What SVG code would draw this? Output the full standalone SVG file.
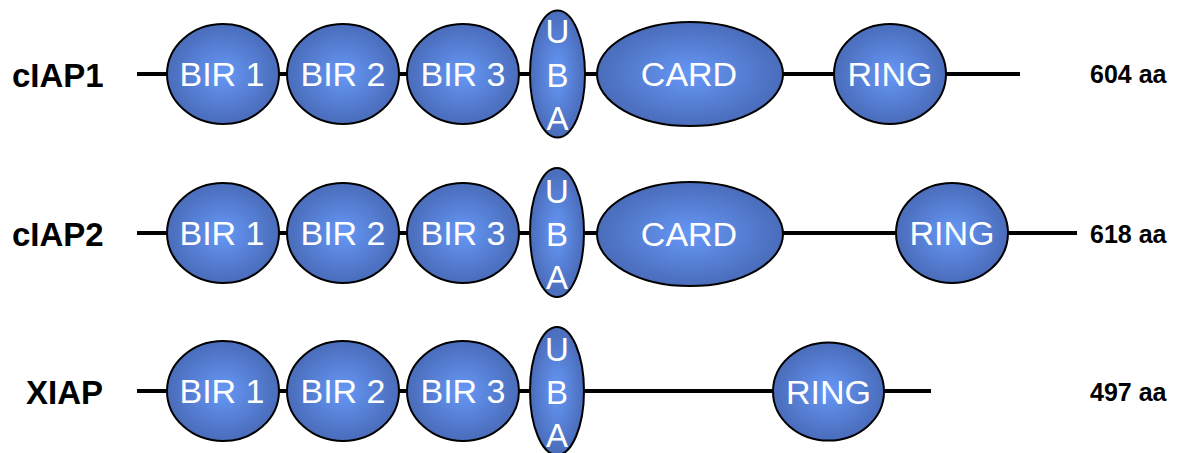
<svg xmlns="http://www.w3.org/2000/svg" width="1184" height="453" viewBox="0 0 1184 453">
<defs>
<radialGradient id="g" cx="50%" cy="50%" r="50%">
<stop offset="0" stop-color="#6698f6"/>
<stop offset="1" stop-color="#4a6cba"/>
</radialGradient>
</defs>
<style>
.dom{fill:url(#g);stroke:#000;stroke-width:2}
.dt{font-family:"Liberation Sans",Arial,sans-serif;font-size:34px;fill:#fff;text-anchor:middle}
.ut{font-family:"Liberation Sans",Arial,sans-serif;font-size:33px;fill:#fff;text-anchor:middle}
.name{font-family:"Liberation Sans",Arial,sans-serif;font-size:33px;font-weight:bold;fill:#000}
.len{font-family:"Liberation Sans",Arial,sans-serif;font-size:25px;font-weight:bold;fill:#000}
.bb{stroke:#000;stroke-width:4;fill:none}
</style>
<rect width="1184" height="453" fill="#fff"/>
<g id="connectors">
<line class="bb" x1="137" y1="74" x2="1020" y2="74"/>
<line class="bb" x1="137" y1="233" x2="1077" y2="233"/>
<line class="bb" x1="137" y1="391" x2="931" y2="391"/>
</g>
<g id="ciap1">
<text class="name" x="12" y="87">cIAP1</text>
<text class="len" x="1090" y="83">604 aa</text>
<g id="ciap1-bir1"><ellipse class="dom" cx="223" cy="74" rx="56" ry="50"/><text class="dt" x="222" y="86">BIR 1</text></g>
<g id="ciap1-bir2"><ellipse class="dom" cx="343" cy="74" rx="56" ry="50"/><text class="dt" x="343" y="86">BIR 2</text></g>
<g id="ciap1-bir3"><ellipse class="dom" cx="463" cy="74" rx="56" ry="50"/><text class="dt" x="463" y="86">BIR 3</text></g>
<g id="ciap1-uba"><ellipse class="dom" cx="557.5" cy="74" rx="27.5" ry="63.5"/><text class="ut" x="557.5" y="43">U</text><text class="ut" x="557.5" y="87">B</text><text class="ut" x="557.5" y="130">A</text></g>
<g id="ciap1-card"><ellipse class="dom" cx="690" cy="74" rx="93" ry="52"/><text class="dt" x="689" y="86">CARD</text></g>
<g id="ciap1-ring"><ellipse class="dom" cx="890" cy="74" rx="56" ry="50"/><text class="dt" x="890" y="86">RING</text></g>
</g>
<g id="ciap2">
<text class="name" x="12" y="246">cIAP2</text>
<text class="len" x="1090" y="243">618 aa</text>
<g id="ciap2-bir1"><ellipse class="dom" cx="223" cy="233" rx="56" ry="50"/><text class="dt" x="222" y="245">BIR 1</text></g>
<g id="ciap2-bir2"><ellipse class="dom" cx="343" cy="233" rx="56" ry="50"/><text class="dt" x="343" y="245">BIR 2</text></g>
<g id="ciap2-bir3"><ellipse class="dom" cx="463" cy="233" rx="56" ry="50"/><text class="dt" x="463" y="245">BIR 3</text></g>
<g id="ciap2-uba"><ellipse class="dom" cx="557" cy="232.5" rx="27" ry="64.5"/><text class="ut" x="557" y="203">U</text><text class="ut" x="557" y="246">B</text><text class="ut" x="557" y="289">A</text></g>
<g id="ciap2-card"><ellipse class="dom" cx="690" cy="234" rx="93" ry="52"/><text class="dt" x="689" y="246">CARD</text></g>
<g id="ciap2-ring"><ellipse class="dom" cx="952" cy="233" rx="56" ry="50"/><text class="dt" x="952" y="245">RING</text></g>
</g>
<g id="xiap">
<text class="name" x="26" y="404">XIAP</text>
<text class="len" x="1090" y="401">497 aa</text>
<g id="xiap-bir1"><ellipse class="dom" cx="223" cy="391" rx="56" ry="50"/><text class="dt" x="222" y="403">BIR 1</text></g>
<g id="xiap-bir2"><ellipse class="dom" cx="343" cy="391" rx="56" ry="50"/><text class="dt" x="343" y="403">BIR 2</text></g>
<g id="xiap-bir3"><ellipse class="dom" cx="463" cy="391" rx="56" ry="50"/><text class="dt" x="463" y="403">BIR 3</text></g>
<g id="xiap-uba"><ellipse class="dom" cx="557" cy="391" rx="27" ry="64"/><text class="ut" x="557" y="361">U</text><text class="ut" x="557" y="404">B</text><text class="ut" x="557" y="447">A</text></g>
<g id="xiap-ring"><ellipse class="dom" cx="828.5" cy="391.5" rx="55.5" ry="49"/><text class="dt" x="828.5" y="404">RING</text></g>
</g>
</svg>
